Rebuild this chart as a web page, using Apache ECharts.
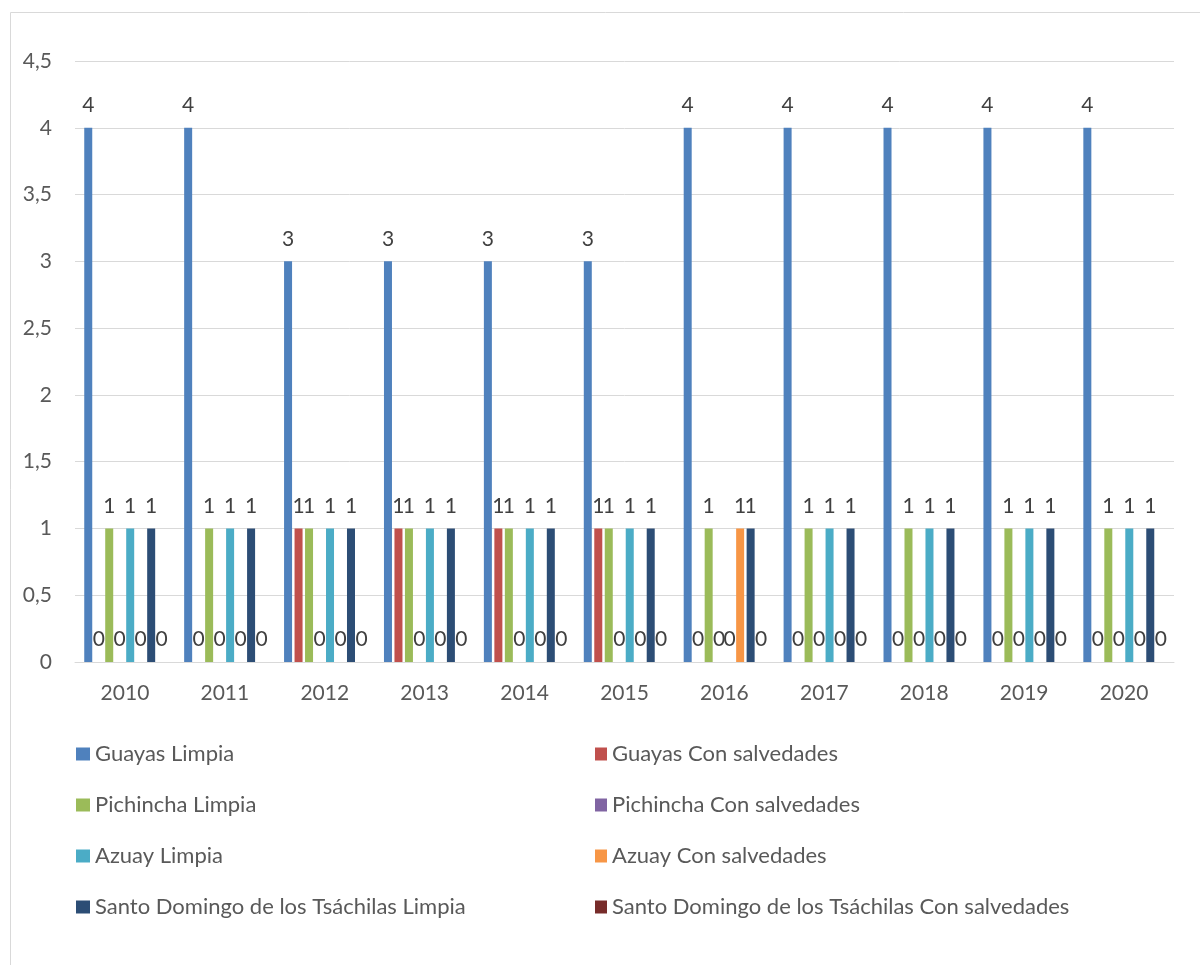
<!DOCTYPE html>
<html>
<head>
<meta charset="utf-8">
<script src="https://cdn.jsdelivr.net/npm/echarts@6/dist/echarts.min.js"></script>
<style>
  html, body { margin: 0; padding: 0; background: #ffffff; }
  #chart { width: 1200px; height: 965px; }
</style>
</head>
<body>
<div id="chart"></div>
<script>
// Categories (years)
const years = ['2010', '2011', '2012', '2013', '2014', '2015', '2016', '2017', '2018', '2019', '2020'];

// Series names
const seriesNames = [
  'Guayas Limpia', 'Guayas Con salvedades',
  'Pichincha Limpia', 'Pichincha Con salvedades',
  'Azuay Limpia', 'Azuay Con salvedades',
  'Santo Domingo de los Tsáchilas Limpia', 'Santo Domingo de los Tsáchilas Con salvedades'
];

// Series values per year
const guayasLimpia        = [4, 4, 3, 3, 3, 3, 4, 4, 4, 4, 4];
const guayasSalvedades    = [0, 0, 1, 1, 1, 1, 0, 0, 0, 0, 0];
const pichinchaLimpia     = [1, 1, 1, 1, 1, 1, 1, 1, 1, 1, 1];
const pichinchaSalvedades = [0, 0, 0, 0, 0, 0, 0, 0, 0, 0, 0];
const azuayLimpia         = [1, 1, 1, 1, 1, 1, 0, 1, 1, 1, 1];
const azuaySalvedades     = [0, 0, 0, 0, 0, 0, 1, 0, 0, 0, 0];
const sdLimpia            = [1, 1, 1, 1, 1, 1, 1, 1, 1, 1, 1];
const sdSalvedades        = [0, 0, 0, 0, 0, 0, 0, 0, 0, 0, 0];

const seriesValues = [
  guayasLimpia, guayasSalvedades,
  pichinchaLimpia, pichinchaSalvedades,
  azuayLimpia, azuaySalvedades,
  sdLimpia, sdSalvedades
];

const colors = ['#4F81BD', '#C0504D', '#9BBB59', '#8064A2', '#4BACC6', '#F79646', '#2C4D75', '#772C2A'];

const FONT = 'Lato, "Open Sans", sans-serif';

const chart = echarts.init(document.getElementById('chart'), null, { renderer: 'canvas' });

const series = seriesNames.map((name, i) => ({
  name: name,
  type: 'bar',
  data: seriesValues[i],
  barGap: '31%',
  barCategoryGap: '18.5%',
  itemStyle: { color: colors[i] },
  label: {
    show: true,
    position: 'top',
    distance: 12,
    color: '#404040',
    fontFamily: FONT,
    fontSize: 21
  },
  emphasis: { disabled: true }
}));

const legendCommon = {
  orient: 'vertical',
  padding: 0,
  itemHeight: 13,
  itemGap: 29,
  icon: 'rect',
  textStyle: { color: '#595959', fontFamily: FONT, fontSize: 22 },
  selectedMode: false
};

chart.setOption({
  animation: false,
  color: colors,
  graphic: [{
    type: 'rect',
    shape: { x: 10.5, y: 12.5, width: 1250, height: 1000 },
    style: { fill: 'none', stroke: '#d9d9d9', lineWidth: 1 },
    silent: true
  }],
  grid: { left: 75, right: 26, top: 61, bottom: 303 },
  legend: [
    Object.assign({}, legendCommon, {
      left: 76, top: 743, itemWidth: 14,
      data: [seriesNames[0], seriesNames[2], seriesNames[4], seriesNames[6]]
    }),
    Object.assign({}, legendCommon, {
      left: 595, top: 743, itemWidth: 12,
      data: [seriesNames[1], seriesNames[3], seriesNames[5], seriesNames[7]]
    })
  ],
  xAxis: {
    type: 'category',
    data: years,
    axisLine: { lineStyle: { color: '#d9d9d9', width: 1 } },
    axisTick: { show: false },
    axisLabel: { color: '#595959', fontFamily: FONT, fontSize: 21, margin: 21 }
  },
  yAxis: {
    type: 'value',
    min: 0,
    max: 4.5,
    interval: 0.5,
    axisLine: { show: false },
    axisTick: { show: false },
    splitLine: { lineStyle: { color: '#d9d9d9', width: 1 } },
    axisLabel: {
      color: '#595959', fontFamily: FONT, fontSize: 21, margin: 23,
      formatter: v => String(v).replace('.', ',')
    }
  },
  series: series
});
</script>
</body>
</html>
